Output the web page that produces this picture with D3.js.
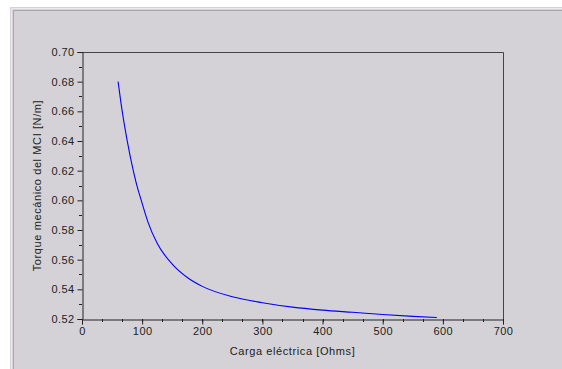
<!DOCTYPE html>
<html>
<head>
<meta charset="utf-8">
<script src="https://cdn.jsdelivr.net/npm/d3@7"></script>
<style>
  body { margin: 0; background: #fff; }
  svg text { font-family: "Liberation Sans", Arial, sans-serif; }
</style>
</head>
<body>
<div id="chart"></div>
<script>
const width = 562,
    height = 369;

// Carga eléctrica [Ohms] vs torque mecánico del MCI [N/m]
const carga = [60, 65, 70, 80, 90, 100, 110, 125, 150, 175, 200, 250, 300, 350, 400, 450, 500, 550, 590];
const torque = [0.680, 0.665, 0.652, 0.630, 0.612, 0.598, 0.585, 0.571, 0.557, 0.548, 0.542, 0.535, 0.531, 0.528, 0.526, 0.5245, 0.523, 0.5218, 0.521];

const xTicks = [0, 100, 200, 300, 400, 500, 600, 700];
const yTicks = [0.52, 0.54, 0.56, 0.58, 0.60, 0.62, 0.64, 0.66, 0.68, 0.70];

const margin = {left: 82, right: 59, top: 52, bottom: 50};

let svg = d3.select('#chart').append('svg')
    .attr('width', width)
    .attr('height', height);

// window panel
svg.append('rect')
    .attr('x', 10).attr('y', 7)
    .attr('width', width - 10).attr('height', height - 7)
    .attr('fill', '#d4d2d6');
svg.append('path')
    .attr('d', `M11.5,${height} V8.5 H${width}`)
    .attr('stroke', '#eceaee').attr('fill', 'none');
svg.append('path')
    .attr('d', `M13.5,${height} V10.5 H${width}`)
    .attr('stroke', '#a9a7ab').attr('fill', 'none');

let x = d3.scaleLinear()
    .domain([0, 700])
    .range([margin.left, width - margin.right]);

let y = d3.scaleLinear()
    .domain([0.52, 0.70])
    .range([height - margin.bottom, margin.top]);

// frame on top and right
svg.append('path')
    .attr('d', `M${x(0)},${y(0.70) + 0.5} H${x(700) + 0.5} V${y(0.52)}`)
    .attr('stroke', '#444').attr('fill', 'none');

// minor ticks
let xMinor = d3.range(0, 700.1, 100 / 3);
svg.append('g')
    .selectAll('line')
    .data(xMinor)
    .enter()
    .append('line')
    .attr('x1', d => Math.round(x(d)) + 0.5)
    .attr('x2', d => Math.round(x(d)) + 0.5)
    .attr('y1', y(0.52))
    .attr('y2', y(0.52) + 3)
    .attr('stroke', '#222');

let yMinor = d3.range(0.53, 0.70, 0.02);
svg.append('g')
    .selectAll('line')
    .data(yMinor)
    .enter()
    .append('line')
    .attr('y1', d => Math.round(y(d)) + 0.5)
    .attr('y2', d => Math.round(y(d)) + 0.5)
    .attr('x1', x(0) - 3)
    .attr('x2', x(0))
    .attr('stroke', '#222');

let xAxis = svg.append('g')
    .attr('transform', `translate(0,${y(0.52) + 0.5})`)
    .call(d3.axisBottom(x).tickValues(xTicks).tickSize(5).tickPadding(3).tickFormat(d3.format('d')));

let yAxis = svg.append('g')
    .attr('transform', `translate(${x(0) + 0.5},0)`)
    .call(d3.axisLeft(y).tickValues(yTicks).tickSize(5).tickPadding(3).tickFormat(d3.format('.2f')));

[xAxis, yAxis].forEach(function (g) {
    g.select('.domain').attr('stroke', '#222');
    g.selectAll('.tick line').attr('stroke', '#222');
    g.selectAll('.tick text')
        .attr('fill', '#222')
        .style('font-size', '11px')
        .style('letter-spacing', '0.4px');
});

// the curve
let pts = carga.map((c, i) => [c, torque[i]]);
svg.append('path')
    .datum(pts)
    .attr('fill', 'none')
    .attr('stroke', '#0000ff')
    .attr('stroke-width', 1.1)
    .attr('d', d3.line()
        .x(d => x(d[0]))
        .y(d => y(d[1]))
        .curve(d3.curveMonotoneX));

// axis titles
svg.append('text')
    .attr('x', (x(0) + x(700)) / 2)
    .attr('y', 355)
    .attr('text-anchor', 'middle')
    .attr('fill', '#222')
    .style('font-size', '11px')
    .style('letter-spacing', '0.6px')
    .text('Carga eléctrica [Ohms]');

svg.append('text')
    .attr('transform', `translate(41,${(y(0.52) + y(0.70)) / 2}) rotate(-90)`)
    .attr('text-anchor', 'middle')
    .attr('fill', '#222')
    .style('font-size', '11px')
    .style('letter-spacing', '0.6px')
    .text('Torque mecánico del MCI [N/m]');
</script>
</body>
</html>
